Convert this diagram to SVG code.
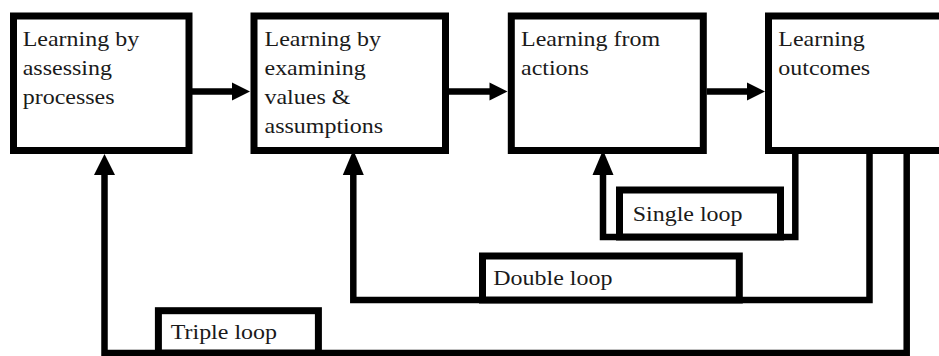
<svg xmlns="http://www.w3.org/2000/svg" width="939" height="356" viewBox="0 0 939 356">
<defs>
<style>
.box{fill:#fff;stroke:#000;stroke-width:7}
.lbl{fill:#fff;stroke:#000;stroke-width:7}
.line{fill:none;stroke:#000;stroke-width:6.5;stroke-linejoin:miter}
.head{fill:#000}
</style>
</defs>
<rect width="939" height="356" fill="#fff"/>
<g id="connectors">
<path class="line" d="M192 91.5 H233"/>
<polygon class="head" points="250,91.5 232,82.5 232,100.5"/>
<path class="line" d="M449 91.5 H490"/>
<polygon class="head" points="507.5,91.5 489.5,82.5 489.5,100.5"/>
<path class="line" d="M706.7 91.5 H748"/>
<polygon class="head" points="765,91.5 747,82.5 747,100.5"/>
<path class="line" d="M906.7 154 V353 H104.5 V174"/>
<polygon class="head" points="104.5,154 94,175 115,175"/>
<path class="line" d="M869.5 154 V300 H353.3 V174"/>
<polygon class="head" points="353.3,150 342.8,175 363.8,175"/>
<path class="line" d="M795.3 154 V237 H603 V174"/>
<polygon class="head" points="603,150 592.5,175 613.5,175"/>
</g>
<g font-family="Liberation Serif, serif" font-size="22" fill="#1a1a1a">
<g id="label-single">
<rect class="lbl" x="619.5" y="190" width="161" height="47"/>
<text transform="translate(632.7,220.5) scale(1.09,1)">Single loop</text>
</g>
<g id="label-double">
<rect class="lbl" x="482.5" y="256" width="256.8" height="44"/>
<text transform="translate(493.3,285) scale(1.09,1)">Double loop</text>
</g>
<g id="label-triple">
<rect class="lbl" x="158.4" y="310.7" width="160" height="42.3"/>
<text transform="translate(170.7,339) scale(1.09,1)">Triple loop</text>
</g>
<g id="node-processes">
<rect class="box" x="13.5" y="16" width="175.5" height="134.5"/>
<text transform="translate(22.7,45.5) scale(1.09,1)">Learning by</text>
<text transform="translate(22.7,74.5) scale(1.09,1)">assessing</text>
<text transform="translate(22.7,103.5) scale(1.09,1)">processes</text>
</g>
<g id="node-values">
<rect class="box" x="254" y="16" width="191.5" height="134.5"/>
<text transform="translate(264.5,45.5) scale(1.09,1)">Learning by</text>
<text transform="translate(264.5,74.5) scale(1.09,1)">examining</text>
<text transform="translate(264.5,103.5) scale(1.09,1)">values &amp;</text>
<text transform="translate(264.5,132.5) scale(1.09,1)">assumptions</text>
</g>
<g id="node-actions">
<rect class="box" x="511.3" y="16" width="192" height="134.5"/>
<text transform="translate(521,45.5) scale(1.09,1)">Learning from</text>
<text transform="translate(521,74.5) scale(1.09,1)">actions</text>
</g>
<g id="node-outcomes">
<rect class="box" x="768.5" y="16" width="200" height="134.5"/>
<text transform="translate(778.3,45.5) scale(1.09,1)">Learning</text>
<text transform="translate(778.3,74.5) scale(1.09,1)">outcomes</text>
</g>
</g>
</svg>
